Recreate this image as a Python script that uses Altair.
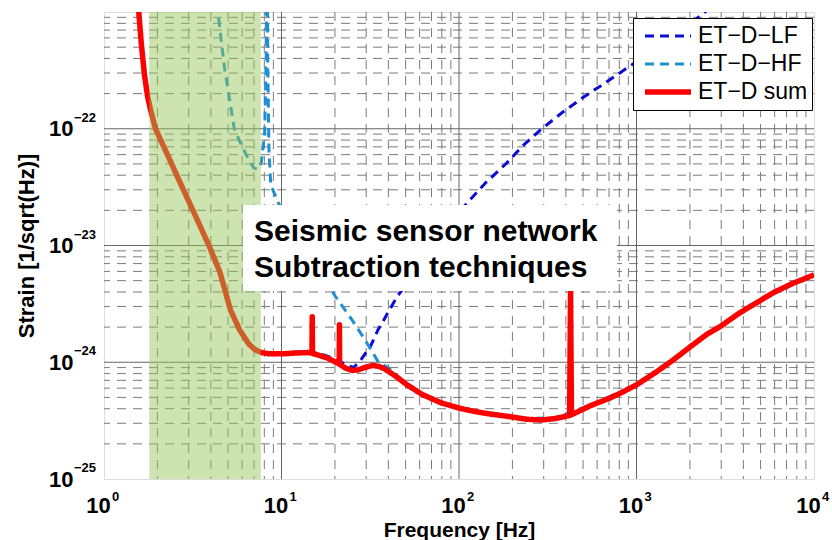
import altair as alt
import pandas as pd

# ---------------- data ----------------
series_names = ["ET\u2212D\u2212LF", "ET\u2212D\u2212HF", "ET\u2212D sum"]
series_colors = ["#0c0cd6", "#1d8fd2", "#ff0000"]
series_dash = [[9, 6], [9, 6], [1, 0]]
series_width = [3, 3, 5.5]

sum_freq = [1.50, 1.57, 1.62, 1.69, 1.76, 1.83, 1.95, 2.3, 2.8, 3.3, 3.9, 4.5, 5.16, 5.8, 6.55,
            7.1, 7.7, 8.5, 10.0, 12.0, 14.0, 14.85, 14.9, 14.95, 16.5, 18.3, 20.0, 21.15, 21.2,
            21.25, 23.0, 25.0, 27.0, 30.0, 32.7, 35.5, 38.0, 44.0, 51.0, 62.0, 79.0, 100.0,
            121.0, 150.0, 186.0, 240.0, 291.0, 350.0, 420.0, 425.0, 430.0, 553.0, 700.0, 805.0,
            1000.0, 1300.0, 1617.0, 2000.0, 2484.0, 3000.0, 3814.0, 4700.0, 5853.0, 7500.0, 10000.0]
sum_strain = [2.0e-21, 1.0e-21, 5.5e-22, 2.9e-22, 1.9e-22, 1.45e-22, 1.0e-22, 5.8e-23, 3.0e-23,
              1.75e-23, 1.0e-23, 5.9e-24, 2.8e-24, 1.9e-24, 1.43e-24, 1.28e-24, 1.21e-24, 1.18e-24,
              1.18e-24, 1.2e-24, 1.21e-24, 1.2e-24, 2.45e-24, 1.19e-24, 1.14e-24, 1.08e-24, 1.01e-24,
              9.7e-25, 2.1e-24, 9.6e-25, 8.9e-25, 8.5e-25, 8.6e-25, 9.1e-25, 9.4e-25, 9.2e-25, 8.8e-25,
              7.6e-25, 6.4e-25, 5.3e-25, 4.5e-25, 4.05e-25, 3.8e-25, 3.6e-25, 3.45e-25, 3.25e-25,
              3.2e-25, 3.3e-25, 3.5e-25, 4.0e-24, 3.55e-25, 4.26e-25, 4.9e-25, 5.4e-25, 6.4e-25,
              8.3e-25, 1.05e-24, 1.35e-24, 1.73e-24, 2.05e-24, 2.65e-24, 3.2e-24, 3.92e-24, 4.7e-24,
              5.6e-24]

lf_freq = [1.50, 1.57, 1.62, 1.69, 1.76, 1.83, 1.95, 2.3, 2.8, 3.3, 3.9, 4.5, 5.16, 5.8, 6.55,
           7.1, 7.7, 8.5, 10.0, 12.0, 14.0, 16.5, 18.3, 20.0, 22.0, 24.5, 25.5, 28.0, 31.7, 35.0,
           37.7, 40.0, 44.9, 55.0, 70.0, 85.0, 107.0, 140.0, 186.0, 230.0, 286.0, 380.0, 499.0,
           700.0, 948.0, 1300.0, 1800.0, 2430.0, 3000.0]
lf_strain = [2.0e-21, 1.0e-21, 5.5e-22, 2.9e-22, 1.9e-22, 1.45e-22, 1.0e-22, 5.8e-23, 3.0e-23,
             1.75e-23, 1.0e-23, 5.9e-24, 2.8e-24, 1.9e-24, 1.43e-24, 1.28e-24, 1.22e-24, 1.2e-24,
             1.2e-24, 1.22e-24, 1.24e-24, 1.18e-24, 1.12e-24, 1.06e-24, 9.9e-25, 9.2e-25, 9.0e-25,
             1.05e-24, 1.37e-24, 1.9e-24, 2.3e-24, 2.7e-24, 3.67e-24, 5.5e-24, 9.0e-24, 1.35e-23,
             2.17e-23, 3.4e-23, 5.1e-23, 7.2e-23, 9.7e-23, 1.37e-22, 1.85e-22, 2.6e-22, 3.56e-22,
             4.9e-22, 7.0e-22, 1.0e-21, 1.3e-21]

hf_freq = [4.2, 4.38, 4.77, 5.42, 6.0, 6.6, 7.0, 7.4, 7.7, 8.04, 8.2, 8.28, 8.36, 8.5, 8.7, 9.75,
           12.0, 15.0, 20.1, 25.0, 30.0, 35.3, 40.0, 44.0, 51.0, 62.0, 79.0, 100.0, 150.0, 240.0,
           350.0, 553.0, 1000.0, 2000.0, 5000.0, 10000.0]
hf_strain = [1.6e-21, 1.0e-21, 3.35e-22, 1.0e-22, 7.0e-23, 5.3e-23, 4.6e-23, 4.5e-23, 5.2e-23,
             9.4e-23, 4.0e-22, 3.0e-20, 4.0e-22, 6.5e-23, 3.3e-23, 2.2e-23, 1.33e-23, 7.7e-24,
             3.67e-24, 2.3e-24, 1.5e-24, 9.9e-25, 9.0e-25, 7.8e-25, 6.5e-25, 5.4e-25, 4.55e-25,
             4.1e-25, 3.65e-25, 3.3e-25, 3.35e-25, 4.3e-25, 6.45e-25, 1.36e-24, 3.4e-24, 5.65e-24]

x_major = [1, 10, 100, 1000, 10000]
x_major_exp = ["0", "1", "2", "3", "4"]
y_major = [1e-25, 1e-24, 1e-23, 1e-22]
y_major_exp = ["\u221225", "\u221224", "\u221223", "\u221222"]
x_inner_major = [10, 100, 1000]
y_inner_major = [1e-24, 1e-23, 1e-22]
minor_mult = [2, 3, 4, 5, 6, 7, 8, 9]
x_decades = [1, 10, 100, 1000]
y_decades = [1e-25, 1e-24, 1e-23, 1e-22]

x_domain = [1, 10000]
y_domain = [1e-25, 1e-21]

shade_freq = [1.8, 7.65]
box_freq = [6.07, 777.0]
box_strain = [4.07e-24, 2.22e-23]
note_lines = ["Seismic sensor network", "Subtraction techniques"]
note_freq = [7.0, 7.0]
note_strain = [1.09e-23, 5.37e-24]

# ---------------- tables ----------------
lines = {
    series_names[0]: (lf_freq, lf_strain),
    series_names[1]: (hf_freq, hf_strain),
    series_names[2]: (sum_freq, sum_strain),
}
x_minor = [m * d for d in x_decades for m in minor_mult]
y_minor = [m * d for d in y_decades for m in minor_mult]

xscale = alt.Scale(type="log", domain=x_domain, nice=False)
yscale = alt.Scale(type="log", domain=y_domain, nice=False)

FONT = "Liberation Sans"
xaxis = alt.Axis(values=x_major, labelExpr="'10'", grid=False, ticks=False, tickSize=0,
                 domain=False, labelFont=FONT, labelFontSize=22, labelFontWeight="bold",
                 labelColor="black", labelPadding=33, labelBaseline="alphabetic",
                 labelOffset=-6, labelFlush=False, labelOverlap=False,
                 title="Frequency [Hz]", titleFont=FONT, titleFontSize=21,
                 titleFontWeight="bold", titleColor="black", titleX=355, titleY=57,
                 titleBaseline="alphabetic", titleAlign="center")
yaxis = alt.Axis(values=y_major, labelExpr="'10'", grid=False, ticks=False, tickSize=0,
                 domain=False, labelFont=FONT, labelFontSize=22, labelFontWeight="bold",
                 labelColor="black", labelPadding=31, labelBaseline="middle",
                 labelFlush=False, labelOverlap=False,
                 title="Strain [1/sqrt(Hz)]", titleFont=FONT, titleFontSize=22,
                 titleFontWeight="bold", titleColor="black", titleX=-71, titleY=233.5,
                 titleAngle=270, titleBaseline="alphabetic", titleAlign="center")

X = alt.X("f:Q", scale=xscale, axis=xaxis)
Y = alt.Y("s:Q", scale=yscale, axis=yaxis)

legend = alt.Legend(orient="none", legendX=529, legendY=6, symbolType="stroke",
                    symbolSize=2116, clipHeight=28, rowPadding=0, padding=4,
                    labelFont=FONT, labelFontSize=23, labelColor="black",
                    strokeColor="black", fillColor="white", symbolOffset=5,
                    labelOffset=4, labelLimit=300)
color_enc = alt.Color("series:N", title=None, sort=series_names,
                      scale=alt.Scale(domain=series_names, range=series_colors), legend=legend)
dash_enc = alt.StrokeDash("series:N", title=None, sort=series_names,
                          scale=alt.Scale(domain=series_names, range=series_dash), legend=legend)
width_enc = alt.StrokeWidth("series:O", title=None, sort=series_names,
                            scale=alt.Scale(type="ordinal", domain=series_names, range=series_width),
                            legend=legend)

GRID = "#7a7a7a"
minor_x = alt.Chart(pd.DataFrame({"f": x_minor})).mark_rule(
    color=GRID, strokeWidth=1, strokeDash=[9, 7]).encode(x=X)
minor_y = alt.Chart(pd.DataFrame({"s": y_minor})).mark_rule(
    color=GRID, strokeWidth=1, strokeDash=[9, 7]).encode(y=Y)
major_x = alt.Chart(pd.DataFrame({"f": x_inner_major})).mark_rule(
    color="#666666", strokeWidth=1).encode(x=X)
major_y = alt.Chart(pd.DataFrame({"s": y_inner_major})).mark_rule(
    color="#666666", strokeWidth=1).encode(y=Y)

line_layers = []
for name in series_names:
    fr, st = lines[name]
    df = pd.DataFrame({"f": fr, "s": st, "series": name})
    line_layers.append(
        alt.Chart(df).mark_line(clip=True, strokeJoin="round", strokeCap="butt").encode(
            x=X, y=Y, color=color_enc, strokeDash=dash_enc, strokeWidth=width_enc)
    )

shade = alt.Chart(pd.DataFrame({"f": [shade_freq[0]], "f2": [shade_freq[1]],
                                "s": [y_domain[0]], "s2": [y_domain[1]]})).mark_rect(
    fill="#97c65a", opacity=0.48).encode(x=X, x2="f2:Q", y=Y, y2="s2:Q")

box = alt.Chart(pd.DataFrame({"f": [box_freq[0]], "f2": [box_freq[1]],
                              "s": [box_strain[0]], "s2": [box_strain[1]]})).mark_rect(
    fill="white", opacity=1).encode(x=X, x2="f2:Q", y=Y, y2="s2:Q")

note = alt.Chart(pd.DataFrame({"f": note_freq, "s": note_strain, "t": note_lines})).mark_text(
    align="left", baseline="alphabetic", font=FONT, fontSize=30, fontWeight="bold",
    color="black").encode(x=X, y=Y, text="t:N")

x_exp = alt.Chart(pd.DataFrame({"f": x_major, "t": x_major_exp})).mark_text(
    align="left", baseline="alphabetic", font=FONT, fontSize=13, fontWeight="bold",
    color="black", dx=8).encode(x=X, y=alt.value(489), text="t:N")

y_exp = alt.Chart(pd.DataFrame({"s": y_major, "t": y_major_exp})).mark_text(
    align="left", baseline="alphabetic", font=FONT, fontSize=13, fontWeight="bold",
    color="black", dy=-7).encode(y=Y, x=alt.value(-30), text="t:N")

chart = alt.layer(
    minor_x, minor_y, major_x, major_y, *line_layers, shade, box, note, x_exp, y_exp
).properties(
    width=710, height=467,
    autosize=alt.AutoSizeParams(type="none"),
    padding={"left": 104, "top": 12, "right": 18, "bottom": 61},
).configure_view(
    stroke="#333333", strokeWidth=1
).configure(
    font=FONT, background="white"
)

chart.save("out.html", embed_options={"renderer": "svg", "actions": False})
